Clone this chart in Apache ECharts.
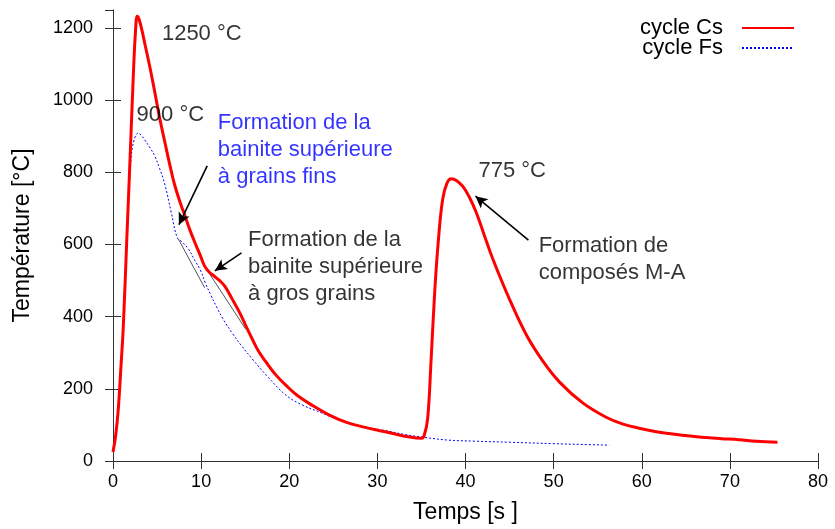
<!DOCTYPE html>
<html>
<head>
<meta charset="utf-8">
<script src="https://cdn.jsdelivr.net/npm/echarts@6/dist/echarts.min.js"></script>
<style>html,body{margin:0;padding:0;background:#fff}#c{width:835px;height:529px}</style>
</head>
<body>
<div id="c"></div>
<script>
// ---- data ----
const timeCs = [0,0.3,0.6,0.9,1.17,1.55,1.93,2.3,2.55,2.75,2.95,3.3,3.6,4.2,4.76,5.3,5.9,6.5,7.0,7.6,8.16,8.7,9.3,9.9,10.4,10.9,11.5,12.1,12.7,13.5,14.4,15.2,15.8,16.5,17.4,18.5,19.7,21,22.7,24.5,26.5,28.5,30.3,32,33.3,35.0,35.3,35.7,36.1,36.5,36.9,37.4,37.9,38.4,39.0,39.7,40.4,41.2,42.1,43.1,45,46.9,48.8,50.7,53.3,55.9,57.8,59.7,61.5,63.5,65.5,67.3,69,71,73,75.4];
const tempCs = [25,70,144,260,373,605,835,1065,1190,1233,1225,1192,1158,1090,1020,950,882,815,765,718,680,642,605,570,540,524,512,500,484,450,410,368,338,305,273,238,208,180,153,128,107,94,84,75,68,63,70,116,282,466,605,724,770,782,777,761,733,690,628,560,448,350,276,218,161,122,103,91,82,75,69,65,62,59,55,52];
const timeFs = [0,0.4,0.7,0.98,1.36,1.74,2.04,2.4,2.87,3.2,3.6,4.2,4.76,5.3,5.9,6.6,7.3,7.8,8.6,9.3,9.9,10.5,11.1,11.8,12.5,13.6,14.5,15.9,17.5,19.7,21.5,23.5,25.3,27.2,29,31,33,35.5,38,41,45,50,53,56.3];
const tempFs = [33,98,180,282,512,697,835,890,909,903,890,868,844,810,765,690,618,608,586,555,530,492,460,425,393,352,322,280,235,181,155,135,117,102,92,84,74,65,58,55,52,48,46,44];
const xTicks = {min:0, max:80, step:10};
const yTicks = {min:0, max:1250, step:200};
const seriesNames = ['cycle Cs','cycle Fs'];
// annotation texts anchored in data units [t, T]
const annotTexts = [
  {text:'1250 °C', t:5.55, T:1183, color:'#000'},
  {text:'900 °C', t:2.68, T:959, color:'#000'},
  {text:'Formation de la\nbainite supérieure\nà grains fins', t:11.9, T:862, color:'#0000ff'},
  {text:'Formation de la\nbainite supérieure\nà gros grains', t:15.33, T:539, color:'#000'},
  {text:'775 °C', t:41.47, T:805, color:'#000'},
  {text:'Formation de\ncomposés M-A', t:48.3, T:558, color:'#000'}
];
// arrows [from, to] in data units
const arrows = [
  [[10.69,818],[7.48,655]],
  [[14.58,577],[11.56,527]],
  [[47.14,612],[41.13,734]]
];
// tangent segments
const tangents = [
  [[7.4,616],[10.4,480]],
  [[11.0,517],[15.07,365]]
];

const FONT = '"Liberation Sans", Arial, sans-serif';
const pairs = (a,b)=>a.map((v,i)=>[v,b[i]]);

const chart = echarts.init(document.getElementById('c'), null, {renderer:'canvas'});
const axisLineStyle = {color:'#333', width:1};
chart.setOption({
  animation:false,
  backgroundColor:'#fff',
  grid:{left:113, right:17, top:10, bottom:67},
  legend:{
    data:seriesNames, orient:'vertical', align:'right', right:35, top:12,
    itemWidth:52, itemHeight:1, itemGap:-2,
    itemStyle:{opacity:0},
    textStyle:{fontFamily:FONT, fontSize:22, color:'#000', lineHeight:21, padding:[0,14,0,0]},
    selectedMode:false
  },
  xAxis:[
    {type:'value', min:xTicks.min, max:xTicks.max, interval:xTicks.step, position:'bottom',
     name:'Temps [s ]', nameLocation:'middle', nameGap:40,
     nameTextStyle:{fontFamily:FONT, fontSize:23, color:'#000'},
     axisLine:{show:true, lineStyle:axisLineStyle},
     axisTick:{show:true, inside:true, length:8, lineStyle:axisLineStyle},
     axisLabel:{fontFamily:FONT, fontSize:18, color:'#000', margin:12, formatter:v=>String(v)},
     splitLine:{show:false}},
    {type:'value', min:xTicks.min, max:xTicks.max, interval:xTicks.step, position:'top',
     axisLine:{show:true, lineStyle:axisLineStyle},
     axisTick:{show:true, inside:true, length:8, lineStyle:axisLineStyle},
     axisLabel:{show:false}, splitLine:{show:false}}
  ],
  yAxis:[
    {type:'value', min:yTicks.min, max:yTicks.max, interval:yTicks.step, position:'left',
     name:'Température [°C]', nameLocation:'middle', nameGap:79, nameRotate:90,
     nameTextStyle:{fontFamily:FONT, fontSize:23, color:'#000'},
     axisLine:{show:true, lineStyle:axisLineStyle},
     axisTick:{show:true, inside:true, length:8, lineStyle:axisLineStyle},
     axisLabel:{fontFamily:FONT, fontSize:18, color:'#000', margin:20, showMaxLabel:false, formatter:v=>String(v)},
     splitLine:{show:false}},
    {type:'value', min:yTicks.min, max:yTicks.max, interval:yTicks.step, position:'right',
     axisLine:{show:true, lineStyle:axisLineStyle},
     axisTick:{show:true, inside:true, length:8, lineStyle:axisLineStyle},
     axisLabel:{show:false}, splitLine:{show:false}}
  ],
  series:[
    {name:seriesNames[0], type:'line', data:pairs(timeCs,tempCs), symbol:'none', smooth:0.4,
     lineStyle:{color:'#ff0000', width:3}, itemStyle:{color:'#ff0000'}, z:3,
     markLine:{silent:true, symbol:['none','arrow'], symbolSize:[9,12], label:{show:false},
       lineStyle:{color:'#000', width:1.6, type:'solid'},
       data:arrows.map(a=>[{coord:a[0]},{coord:a[1]}])}},
    {name:seriesNames[1], type:'line', data:pairs(timeFs,tempFs), symbol:'none', smooth:0.4,
     lineStyle:{color:'#0000ff', width:1, type:[2,2]}, itemStyle:{color:'#0000ff'}, z:2,
     markLine:{silent:true, symbol:['none','none'], label:{show:false},
       lineStyle:{color:'#555', width:1, type:'solid'},
       data:tangents.map(a=>[{coord:a[0]},{coord:a[1]}])}},
    {name:'annot', type:'scatter', symbolSize:0, silent:true, z:5,
     data:annotTexts.map(a=>({value:[a.t,a.T], label:{show:true, formatter:a.text, color:a.color}})),
     label:{show:true, position:'inside', align:'left', verticalAlign:'middle',
       fontFamily:FONT, fontSize:22, lineHeight:27}}
  ]
});
</script>
</body>
</html>
